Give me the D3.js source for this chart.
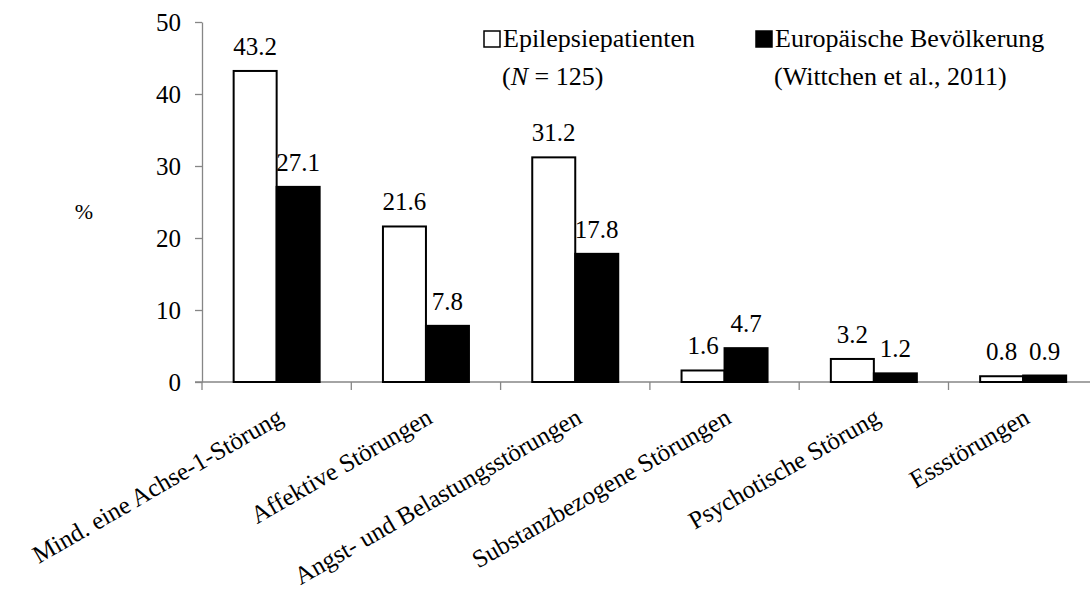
<!DOCTYPE html>
<html>
<head>
<meta charset="utf-8">
<script src="https://cdn.jsdelivr.net/npm/d3@7"></script>
</head>
<body style="margin:0;background:#fff">
<svg id="chart" width="1090" height="594"></svg>
<script>
const categories = [
  "Mind. eine Achse-1-Störung",
  "Affektive Störungen",
  "Angst- und Belastungsstörungen",
  "Substanzbezogene Störungen",
  "Psychotische Störung",
  "Essstörungen"
];
const seriesNames = ["Epilepsiepatienten", "Europäische Bevölkerung"];
const seriesSub = ["(N = 125)", "(Wittchen et al., 2011)"];
const epilepsy = [43.2, 21.6, 31.2, 1.6, 3.2, 0.8];
const europe = [27.1, 7.8, 17.8, 4.7, 1.2, 0.9];
const yTicks = [0, 10, 20, 30, 40, 50];
const seriesFill = ["#ffffff", "#000000"];

const svg = d3.select("#chart");
const plotLeft = 202, plotTop = 22, plotBottom = 382;
const groupW = 149.3;
const axisColor = "#868686";

const x0 = d3.scaleBand().domain(categories).range([plotLeft, plotLeft + groupW * categories.length]).padding(0);
const x1 = d3.scaleBand().domain(seriesNames).range([0, x0.bandwidth()]).paddingInner(0).paddingOuter(0.736);
const y = d3.scaleLinear().domain([0, 50]).range([plotBottom, plotTop]);

const rows = categories.map((c, i) => ({ cat: c, vals: [epilepsy[i], europe[i]] }));

function serif(sel, size) {
  return sel.style("font-family", "Nimbus Roman").style("font-size", size + "px");
}

// y axis
const yAxis = svg.append("g")
  .attr("transform", `translate(${plotLeft},0)`)
  .call(d3.axisLeft(y).tickValues(yTicks).tickSize(7).tickPadding(14).tickSizeOuter(0));
yAxis.attr("font-family", null).attr("font-size", null);
yAxis.select(".domain").attr("stroke", axisColor).attr("stroke-width", 1.3);
yAxis.selectAll(".tick line").attr("stroke", axisColor).attr("stroke-width", 1.3);
serif(yAxis.selectAll(".tick text"), 25).attr("fill", "#000");

// x axis line with group boundary ticks
const boundaries = categories.map(c => x0(c)).concat([x0.range()[1]]);
svg.append("line")
  .attr("x1", plotLeft - 7).attr("x2", x0.range()[1])
  .attr("y1", y(0)).attr("y2", y(0))
  .attr("stroke", axisColor).attr("stroke-width", 1.3);
svg.selectAll("line.xtick").data(boundaries).enter().append("line")
  .attr("class", "xtick")
  .attr("x1", d => d).attr("x2", d => d)
  .attr("y1", y(0)).attr("y2", y(0) + 8)
  .attr("stroke", axisColor).attr("stroke-width", 1.3);

// bars
const g = svg.selectAll("g.grp").data(rows).enter().append("g")
  .attr("class", "grp")
  .attr("transform", d => `translate(${x0(d.cat)},0)`);

g.selectAll("rect").data(d => d.vals.map((v, i) => ({ v, s: seriesNames[i], i }))).enter().append("rect")
  .attr("x", d => x1(d.s))
  .attr("y", d => y(d.v))
  .attr("width", x1.bandwidth())
  .attr("height", d => y(0) - y(d.v))
  .attr("fill", d => seriesFill[d.i])
  .attr("stroke", "#000")
  .attr("stroke-width", 2);

serif(g.selectAll("text.val").data(d => d.vals.map((v, i) => ({ v, s: seriesNames[i], i }))).enter().append("text")
  .attr("class", "val")
  .attr("x", d => x1(d.s) + x1.bandwidth() / 2)
  .attr("y", d => y(d.v) - 16)
  .attr("text-anchor", "middle"), 25)
  .text(d => d.v.toFixed(1));

// category labels
serif(svg.selectAll("text.cat").data(categories).enter().append("text")
  .attr("class", "cat")
  .attr("text-anchor", "end")
  .attr("transform", d => `translate(${x0(d) + x0.bandwidth() / 2 + 8},${y(0) + 40}) rotate(-30)`), 25)
  .text(d => d);

// y label
serif(svg.append("text")
  .attr("x", 84).attr("y", 219)
  .attr("text-anchor", "middle"), 22)
  .text("%");

// legend
const legendX = [483, 755];
const leg = svg.selectAll("g.leg").data(seriesNames).enter().append("g").attr("class", "leg")
  .attr("transform", (d, i) => `translate(${legendX[i]},0)`);
leg.append("rect")
  .attr("x", 1).attr("y", 31)
  .attr("width", 16).attr("height", 16)
  .attr("fill", (d, i) => seriesFill[i])
  .attr("stroke", "#000").attr("stroke-width", 1.5);
serif(leg.append("text")
  .attr("x", 20).attr("y", 47), 26)
  .text(d => d);
serif(leg.append("text")
  .attr("x", 19).attr("y", 85), 26)
  .each(function(d, i) {
    const t = d3.select(this);
    if (i === 0) {
      t.append("tspan").text("(");
      t.append("tspan").style("font-style", "italic").text("N");
      t.append("tspan").text(" = 125)");
    } else {
      t.text(seriesSub[i]);
    }
  });
</script>
</body>
</html>
